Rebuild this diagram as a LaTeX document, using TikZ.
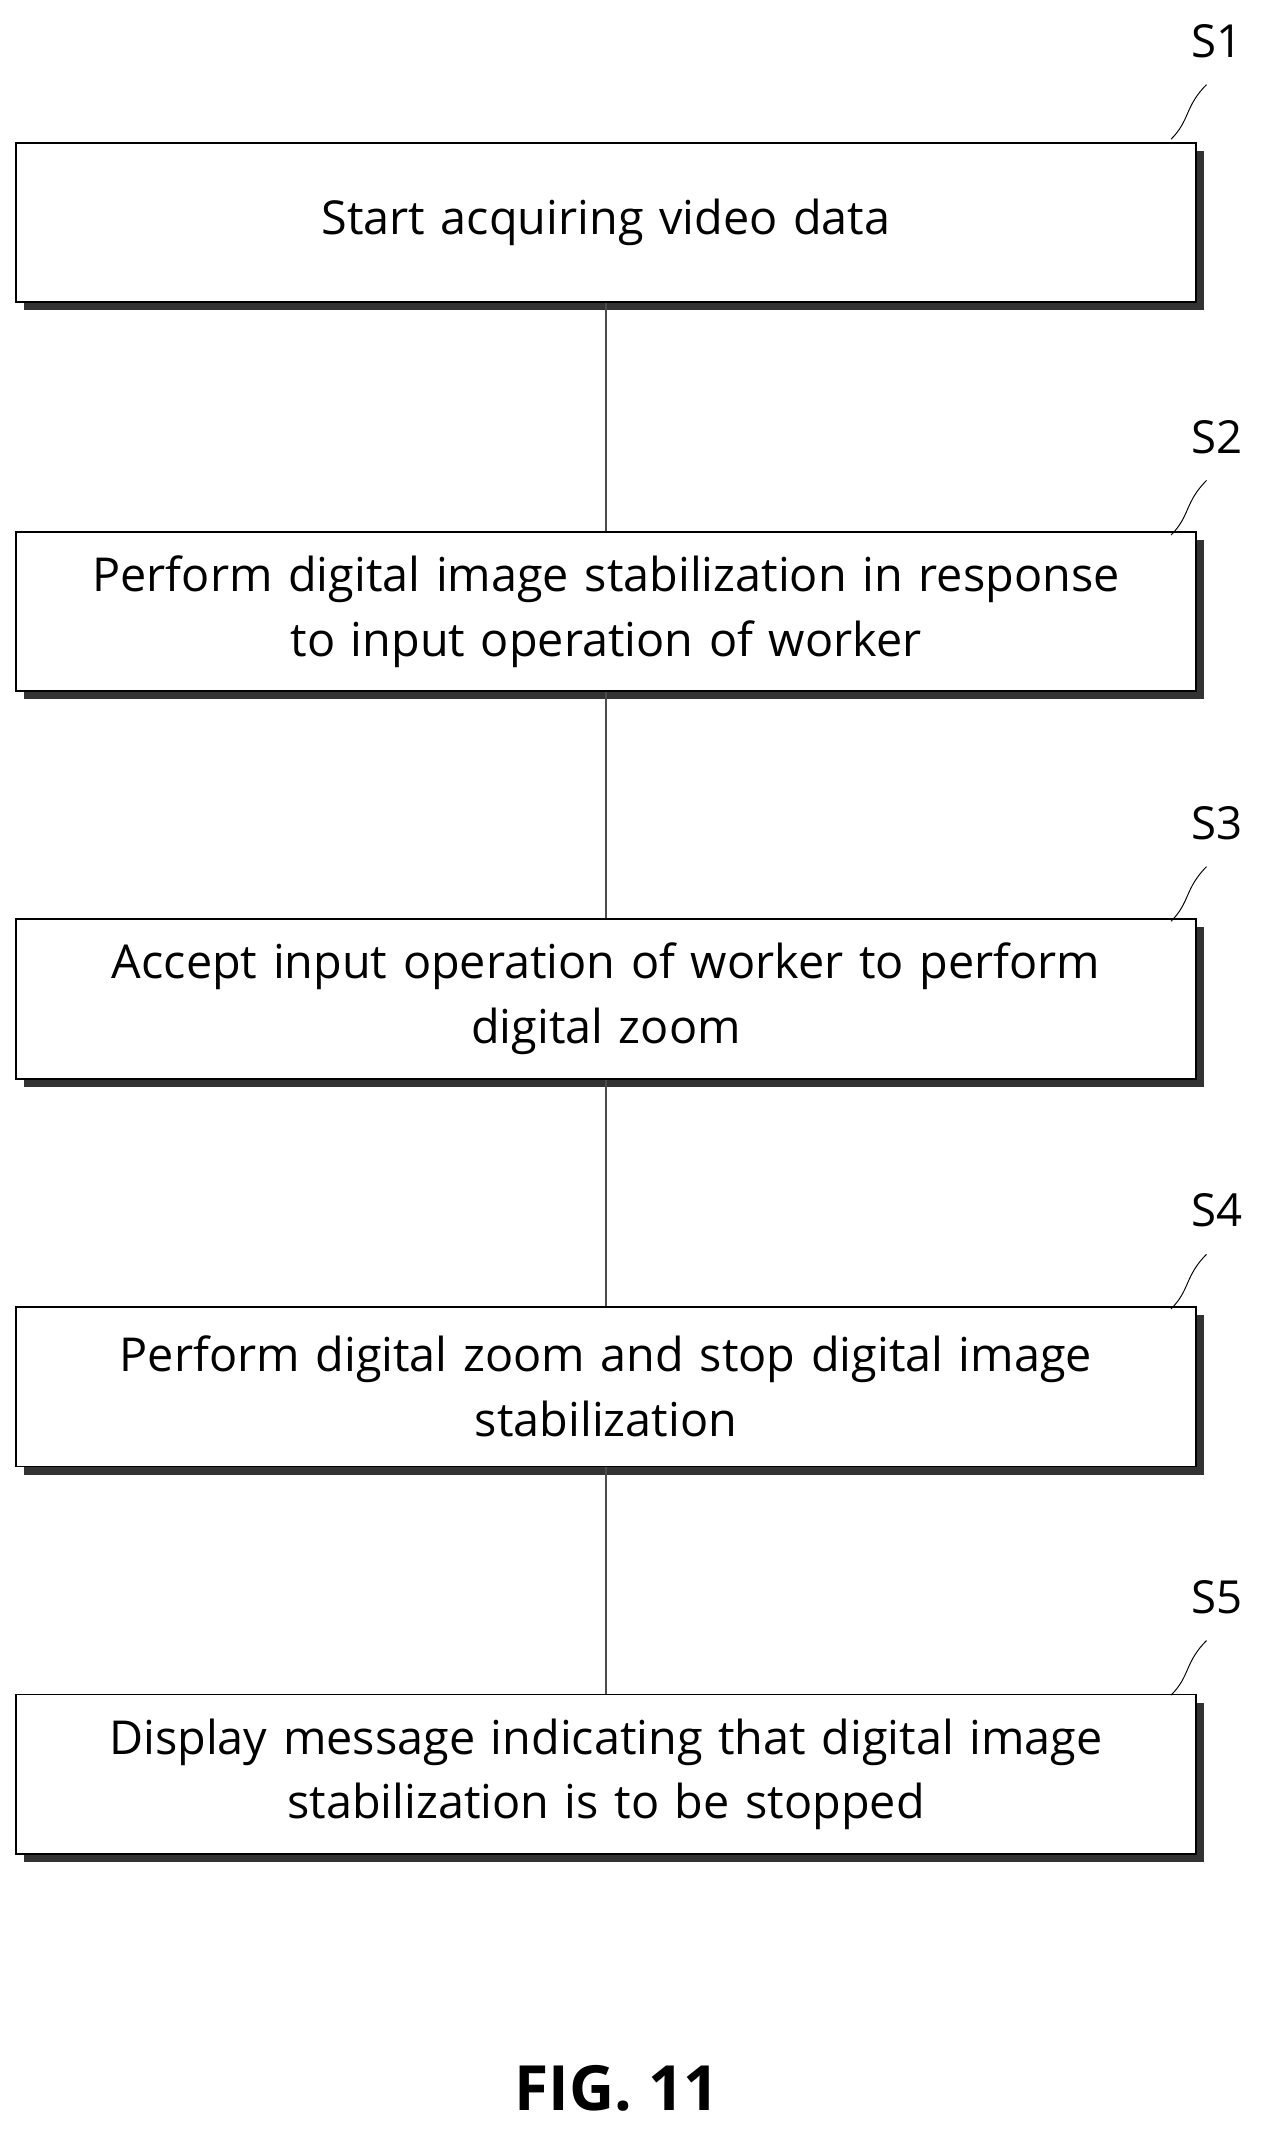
\documentclass[tikz,border=0pt]{standalone}
\usepackage{fontspec}
\setmainfont{Open Sans}
\usetikzlibrary{positioning, shadows}
\tikzset{x=0.02cm, y=-0.02cm,
  stepbox/.style={draw, thick, fill=white, minimum width=17.3cm, minimum height=2.34cm,
    align=center, font=\fontsize{19.5}{27}\selectfont, text width=16.6cm,
    drop shadow={shadow xshift=0.12cm, shadow yshift=-0.12cm, fill=gray!40!black, opacity=1}},
  steplabel/.style={font=\fontsize{19}{22}\selectfont},
  link/.style={thick, gray!60!black}}

\begin{document}
\begin{tikzpicture}
	\useasboundingbox (0,0) rectangle (930,1576);
	\node[stepbox] at (444,163) (S1) {Start acquiring video data};
	\node[stepbox] at (444,448) (S2) {Perform digital image stabilization in response\\to input operation of worker};
	\node[stepbox] at (444,732) (S3) {Accept input operation of worker to perform\\digital zoom};
	\node[stepbox] at (444,1016) (S4) {Perform digital zoom and stop digital image\\stabilization};
	\node[stepbox] at (444,1300) (S5) {Display message indicating that digital image\\stabilization is to be stopped};
	% step numbers
	\foreach \i/\y in {1/30, 2/320, 3/603, 4/887, 5/1170} {
		\node[steplabel] at (892,\y) (L\i) {S\i};
		\draw[thin] (858,\y+72) .. controls (872,\y+58) and (868,\y+48) .. (884,\y+32);
	}
	\draw[link] (S1) -- (S2);
	\draw[link] (S2) -- (S3);
	\draw[link] (S3) -- (S4);
	\draw[link] (S4) -- (S5);
	\node[font=\fontsize{26}{30}\selectfont\bfseries] at (452,1530) (fig) {FIG. 11};
\end{tikzpicture}
\end{document}
